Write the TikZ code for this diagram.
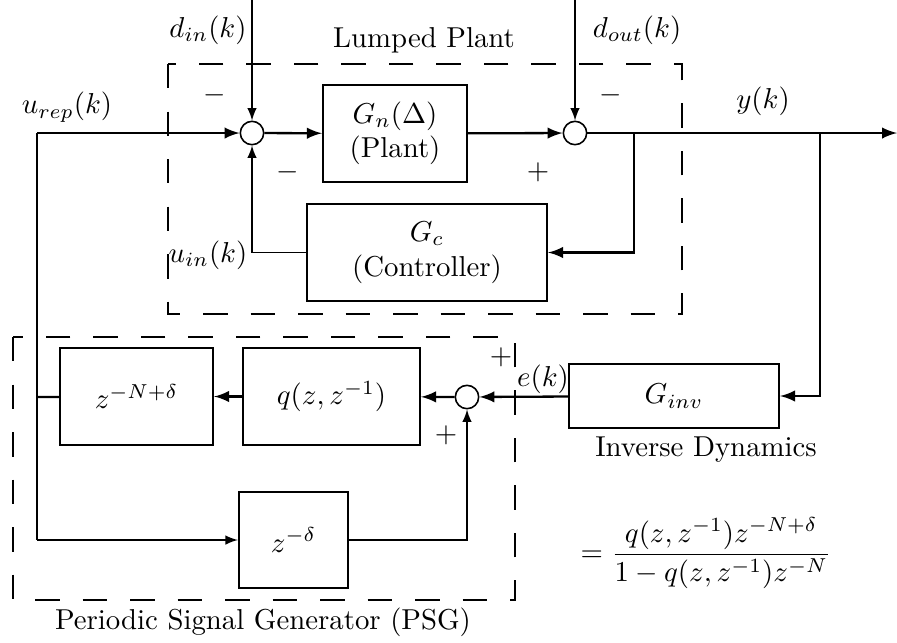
\documentclass[tikz,border=0pt]{standalone}
\usepackage{amsmath}
\tikzset{blk/.style={
    rectangle,
    draw,
    line width=0.8pt,
    align=center,
    inner sep=0pt
  },
  sumnode/.style={circle,draw,line width=0.55pt,minimum size=0.285cm,inner sep=0pt},
  sig/.style={line width=0.8pt,->},
  sigthin/.style={line width=0.5pt,->},
  dbox/.style={line width=0.7pt,dash pattern=on 8.5pt off 8pt},
  lbl/.style={inner sep=0pt},
}

\begin{document}
\begin{tikzpicture}[x=0.0122cm,y=-0.0122cm,>=latex]
  \useasboundingbox (0,0) rectangle (897,642);
  \draw[dbox] (168,64) rectangle (682,314);
  \draw[dbox] (13,337) rectangle (515,600);
  \node [blk,minimum width=1.757cm,minimum height=1.183cm] (plant) at (395,133.5) {$G_n(\Delta)$\\(Plant)};
  \node [blk,minimum width=2.928cm,minimum height=1.183cm] (ctrl) at (427,252.5) {$G_c$\\(Controller)};
  \node [blk,minimum width=2.562cm,minimum height=0.781cm] (ginv) at (674,396) {$G_{inv}$};
  \node [blk,minimum width=2.159cm,minimum height=1.183cm] (qfilt) at (331.5,396.5) {$q(z,z^{-1})$};
  \node [blk,minimum width=1.867cm,minimum height=1.183cm] (delayN) at (136.5,396.5) {$z^{-N+\delta}$};
  \node [blk,minimum width=1.330cm,minimum height=1.17cm] (delayd) at (293.5,540) {$z^{-\delta}$};
  \node [sumnode] (sum1) at (252,133) {};
  \node [sumnode] (sum2) at (575,133) {};
  \node [sumnode] (sum3) at (467,397) {};
  \coordinate (din) at (252,0);
  \coordinate (dout) at (575,0);
  \coordinate (tl) at (37,133);
  \coordinate (ml) at (37,397);
  \coordinate (bl) at (37,540);
  \coordinate (br1) at (634,133);
  \coordinate (br2) at (820,133);
  \coordinate (yout) at (897,133);
  \draw[sig] (tl) -- (sum1);
  \draw[sigthin] (din) -- (sum1);
  \draw[sig] (sum1) -- (plant);
  \draw[sig] (plant) -- (sum2);
  \draw[sigthin] (dout) -- (sum2);
  \draw[sig] (sum2) -- (yout);
  \draw[sig] (br1) |- (ctrl);
  \draw[sigthin] (ctrl) -| (sum1);
  \draw[sig] (br2) |- (ginv);
  \draw[sig] (ginv) -- (sum3);
  \draw[sig] (sum3) -- (qfilt);
  \draw[sig] (qfilt) -- (delayN);
  \draw[line width=0.8pt] (delayN) -- (ml);
  \draw[line width=0.5pt] (tl) -- (bl);
  \draw[sigthin] (bl) -- (delayd);
  \draw[sigthin] (delayd) -| (sum3);
  \node [lbl] (dinlbl) at (208,30) {$d_{in}(k)$};
  \node [lbl] (doutlbl) at (637,30) {$d_{out}(k)$};
  \node [lbl] (lumped) at (424,40) {Lumped Plant};
  \node [lbl] (urep) at (67,107) {$u_{rep}(k)$};
  \node [lbl] (ylbl) at (763,101) {$y(k)$};
  \node [lbl] (uin) at (208,255) {$u_{in}(k)$};
  \node [lbl] (m1) at (215,95) {$-$};
  \node [lbl] (m2) at (288,172) {$-$};
  \node [lbl] (m3) at (611,95) {$-$};
  \node [lbl] (p1) at (538,172) {$+$};
  \node [lbl] (elbl) at (543,379) {$e(k)$};
  \node [lbl] (p2) at (501,357) {$+$};
  \node [lbl] (p3) at (446,435) {$+$};
  \node [lbl] (invlbl) at (706,450) {Inverse Dynamics};
  \node [lbl] (psglbl) at (263,622) {Periodic Signal Generator (PSG)};
  \node [lbl] (tf) at (706,553) {$=\dfrac{q(z,z^{-1})z^{-N+\delta}}{1-q(z,z^{-1})z^{-N}}$};
\end{tikzpicture}
\end{document}
